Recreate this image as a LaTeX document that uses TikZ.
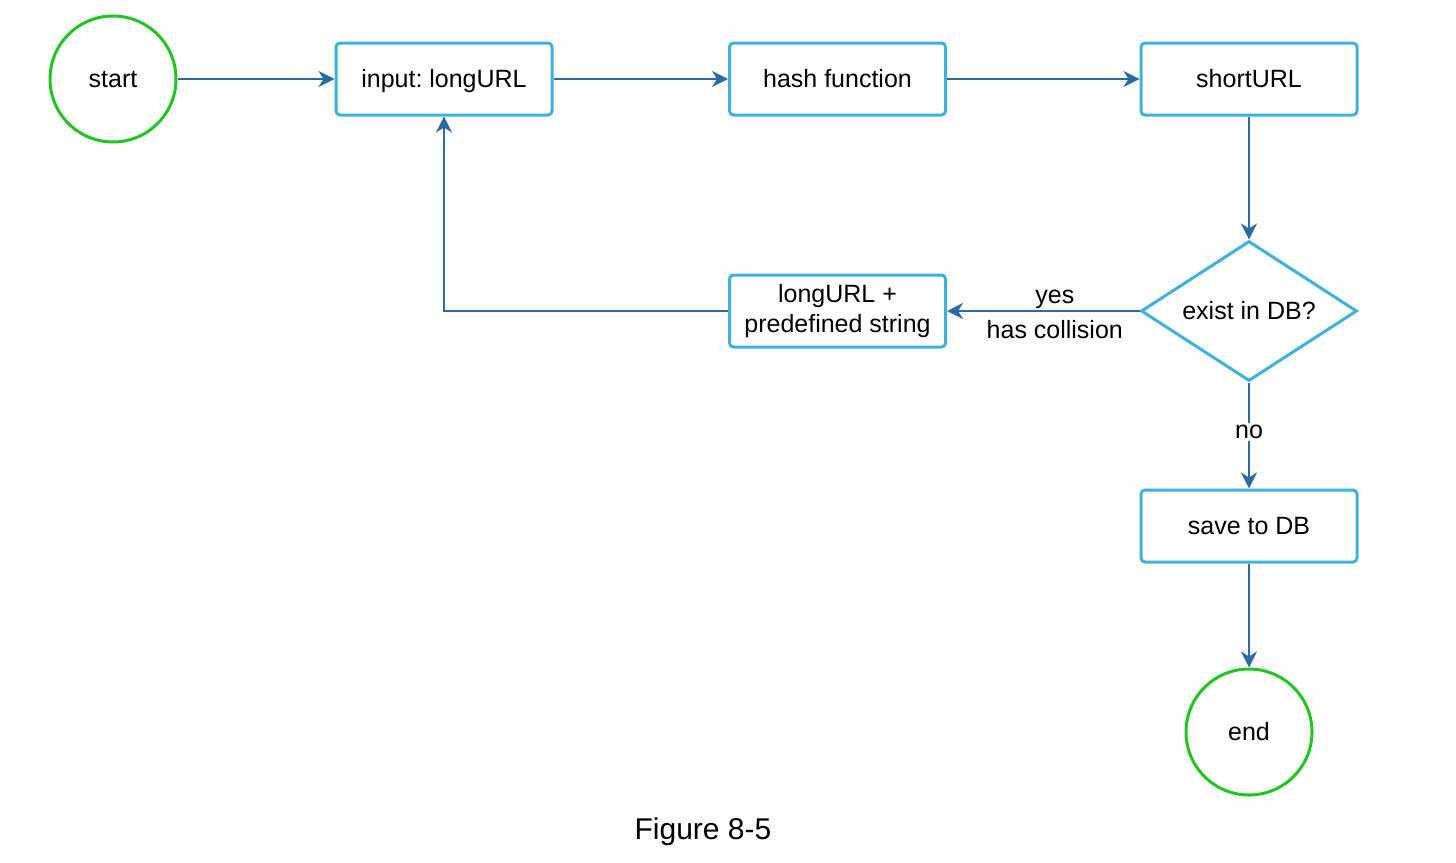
\documentclass[tikz,border=0pt]{standalone}
\usepackage{fontspec}
\setmainfont{Liberation Sans}
\usepackage{xcolor}
\definecolor{flowgreen}{RGB}{34,196,34}
\definecolor{flowcyan}{RGB}{62,178,218}
\definecolor{flowblue}{RGB}{46,106,162}
\definecolor{flowpaper}{RGB}{253,253,253}
\usetikzlibrary{positioning,arrows.meta,shapes.geometric}
\tikzset{
  oneline/.style ={text height=0.86em,text depth=0pt},
  terminal/.style={circle,draw=flowgreen,line width=1.5pt,fill=white,oneline,
                   minimum size=63pt,inner sep=0pt},
  stepbox/.style ={rectangle,rounded corners=2pt,draw=flowcyan,line width=1.5pt,fill=white,
                   align=center,minimum width=108pt,minimum height=36pt,inner sep=2pt},
  decision/.style={diamond,aspect=1.5,draw=flowcyan,line width=1.5pt,fill=white,oneline,
                   minimum width=108pt,minimum height=70pt,inner sep=0pt},
  flow/.style    ={-{Stealth[length=8pt,width=8pt,inset=2.5pt]},line width=1pt,draw=flowblue},
}

\begin{document}
\frenchspacing
\begin{tikzpicture}[x=0.5pt,y=-0.5pt,font=\fontsize{12.5}{15}\selectfont]
  \useasboundingbox (0,0) rectangle (1456,862);
  \fill[flowpaper] (48,0) rectangle (1358,848);
  % main row
  \node[terminal] (start) at (113,79) {start};
  \node[stepbox,oneline] (input) at (444,79) {input: longURL};
  \node[stepbox,oneline] (hash) at (837.5,79) {hash function};
  \node[stepbox,oneline] (short) at (1249,79) {shortURL};
  % check and retry
  \node[decision] (exist) at (1249,311) {exist in DB?};
  \node[stepbox] (retry) at (837.5,311) {longURL +\\predefined string};
  \node[stepbox,oneline] (save) at (1249,526) {save to DB};
  \node[terminal] (end) at (1249,732) {end};
  \node (caption) at (703,832) {\fontsize{15}{18}\selectfont Figure 8-5};

  \draw[flow] (start) -- (input);
  \draw[flow] (input) -- (hash);
  \draw[flow] (hash) -- (short);
  \draw[flow] (short) -- (exist);
  \draw[flow] (exist) -- node[above,pos=0.44,yshift=-2.5pt]{yes}
                         node[below,pos=0.44,yshift=-1pt]{has collision} (retry);
  \draw[flow] (retry.west) -| (input.south);
  \draw[flow] (exist) -- node[fill=flowpaper,inner sep=1pt,pos=0.47]{no} (save);
  \draw[flow] (save) -- (end);
\end{tikzpicture}
\end{document}
